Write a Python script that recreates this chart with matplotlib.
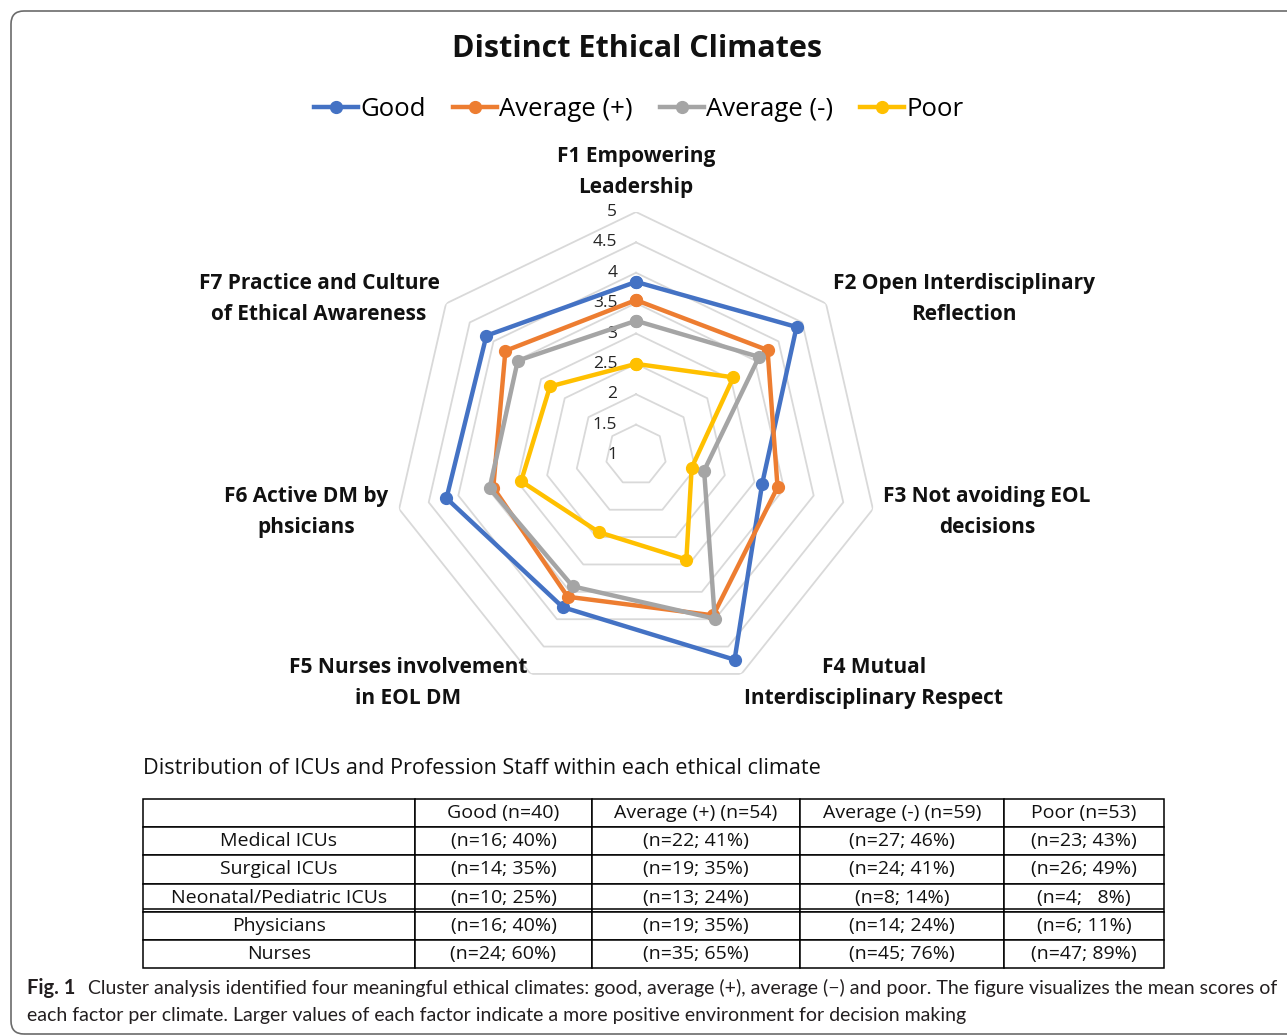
"""Radar chart of four ethical climates plus the ICU / staff distribution table."""

import numpy as np
import matplotlib
matplotlib.use("Agg")
import matplotlib.pyplot as plt
from matplotlib.patches import FancyBboxPatch
from matplotlib.transforms import IdentityTransform

W, H = 1287, 1035

FACTORS = [
    "F1 Empowering\nLeadership",
    "F2 Open Interdisciplinary\nReflection",
    "F3 Not avoiding EOL\ndecisions",
    "F4 Mutual\nInterdisciplinary Respect",
    "F5 Nurses involvement\nin EOL DM",
    "F6 Active DM by\nphsicians",
    "F7 Practice and Culture\nof Ethical Awareness",
]
good = [3.85, 4.38, 3.13, 4.74, 3.78, 4.20, 4.15]
avg_plus = [3.55, 3.77, 3.39, 3.93, 3.59, 3.41, 3.75]
avg_minus = [3.21, 3.59, 2.15, 3.99, 3.40, 3.47, 3.49]
poor = [2.50, 3.05, 1.94, 2.91, 2.41, 2.94, 2.81]

SERIES = ["Good", "Average (+)", "Average (-)", "Poor"]
COLORS = ["#4472C4", "#ED7D31", "#A5A5A5", "#FFC000"]
R_TICKS = [1, 1.5, 2, 2.5, 3, 3.5, 4, 4.5, 5]

TABLE_COLS = ["", "Good (n=40)", "Average (+) (n=54)", "Average (-) (n=59)", "Poor (n=53)"]
TABLE_ROWS = ["Medical ICUs", "Surgical ICUs", "Neonatal/Pediatric ICUs", "Physicians", "Nurses"]
TABLE_CELLS = [
    ["(n=16; 40%)", "(n=22; 41%)", "(n=27; 46%)", "(n=23; 43%)"],
    ["(n=14; 35%)", "(n=19; 35%)", "(n=24; 41%)", "(n=26; 49%)"],
    ["(n=10; 25%)", "(n=13; 24%)", "(n=8; 14%)", "(n=4;   8%)"],
    ["(n=16; 40%)", "(n=19; 35%)", "(n=14; 24%)", "(n=6; 11%)"],
    ["(n=24; 60%)", "(n=35; 65%)", "(n=45; 76%)", "(n=47; 89%)"],
]

# label centres, in pixels of the reference picture
LABEL_POS = [(636, 172), (964, 299), (987, 512), (874, 683), (408, 683), (306, 512), (319, 299)]

plt.rcParams["font.family"] = ["Open Sans", "DejaVu Sans"]


def px(x, y):
    return x / W, 1 - y / H


fig = plt.figure(figsize=(W / 100, H / 100), dpi=100)

# rounded frame, drawn in display pixels
frame = FancyBboxPatch((11, 1), 1400, 1023, boxstyle="round,pad=0,rounding_size=13",
                       transform=IdentityTransform(), fill=False, edgecolor="#6b6b6b", linewidth=1.2)
fig.add_artist(frame)

fig.text(*px(637, 49), "Distinct Ethical Climates", ha="center", va="center",
         fontsize=22, fontweight="bold", color="#111111")

# radar
cx, cy, rad = 636, 455, 243
ax = fig.add_axes([(cx - rad) / W, 1 - (cy + rad) / H, 2 * rad / W, 2 * rad / H], projection="polar")
ax.set_theta_zero_location("N")
ax.set_theta_direction(-1)
ax.set_ylim(1, 5)
ax.set_xticks([])
ax.set_yticks([])
ax.grid(False)
ax.spines["polar"].set_visible(False)
ax.patch.set_alpha(0)

n = len(FACTORS)
theta = np.linspace(0, 2 * np.pi, n, endpoint=False)
theta_c = np.append(theta, theta[0])

for v in R_TICKS[1:]:
    ax.plot(theta_c, [v] * (n + 1), color="#d9d9d9", lw=1.3, zorder=1)

for v in R_TICKS:
    ax.annotate(f"{v:g}", xy=(0, v), xytext=(-13.5, 0), textcoords="offset points",
                ha="right", va="center", fontsize=12.5, color="#262626", zorder=2)

for name, vals, col in zip(SERIES, [good, avg_plus, avg_minus, poor], COLORS):
    ax.plot(theta_c, vals + vals[:1], color=col, lw=3.2, marker="o", markersize=8.5,
            label=name, zorder=3, clip_on=False)

for (lx, ly), lab in zip(LABEL_POS, FACTORS):
    fig.text(*px(lx, ly), lab, ha="center", va="center", fontsize=15, fontweight="bold",
             color="#111111", linespacing=1.6)

handles, labels = ax.get_legend_handles_labels()
fig.legend(handles, labels, loc="center", bbox_to_anchor=px(639, 109), ncol=4, frameon=False,
           fontsize=18.5, handlelength=1.7, handletextpad=0.1, columnspacing=1.05, numpoints=1)

# table
fig.text(*px(143, 769), "Distribution of ICUs and Profession Staff within each ethical climate",
         ha="left", va="center", fontsize=15.6, color="#111111")

t_left, t_right, t_top, t_bot = 143, 1164, 799, 968
tab_ax = fig.add_axes([t_left / W, 1 - t_bot / H, (t_right - t_left) / W, (t_bot - t_top) / H])
tab_ax.axis("off")
col_w = np.array([272, 177, 208, 204, 160], dtype=float)
cell_text = [TABLE_COLS] + [[r] + c for r, c in zip(TABLE_ROWS, TABLE_CELLS)]
tbl = tab_ax.table(cellText=cell_text, colWidths=list(col_w / col_w.sum()), bbox=[0, 0, 1, 1],
                   cellLoc="center")
tbl.auto_set_font_size(False)
tbl.set_fontsize(14)
for cell in tbl.get_celld().values():
    cell.set_edgecolor("black")
    cell.set_linewidth(1.1)
    cell.get_text().set_color("#111111")
tab_ax.axhline(2 / 6 + 3 / (t_bot - t_top), color="black", lw=1.1)

# caption
cap_font = ["Lato", "DejaVu Sans"]
fig.text(*px(27, 988), "Fig. 1", ha="left", va="center", fontsize=14.5, fontweight="bold",
         family=cap_font, color="#231f20")
fig.text(*px(88, 988), "Cluster analysis identified four meaningful ethical climates: good, average (+), "
         "average (\u2212) and poor. The figure visualizes the mean scores of",
         ha="left", va="center", fontsize=14, family=cap_font, color="#231f20")
fig.text(*px(27, 1015), "each factor per climate. Larger values of each factor indicate a more positive "
         "environment for decision making",
         ha="left", va="center", fontsize=14, family=cap_font, color="#231f20")

fig.savefig("out.png", dpi=100)
